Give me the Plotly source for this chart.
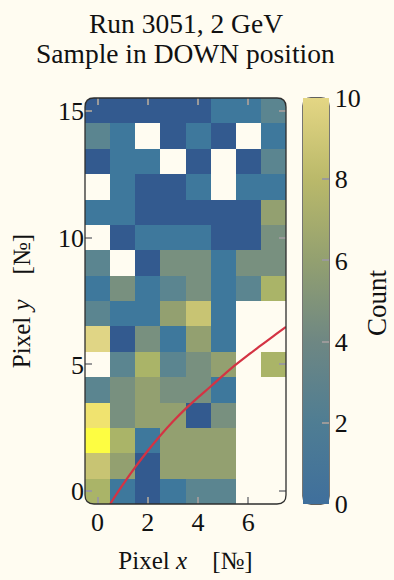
import plotly.graph_objects as go

# ---------------- data ----------------
cols = [0, 1, 2, 3, 4, 5, 6, 7]
rows = list(range(16))
N = None
# counts, row 0 (bottom) .. row 15 (top); None = no data
counts = [
    [7, 1, 0, 1, 3, 3, N, N],
    [8, 6, 0, 6, 6, 6, N, N],
    [12, 7, 1, 6, 6, 6, N, N],
    [11, 4, 6, 6, 0, 4, N, N],
    [3, 4, 6, 4, 4, 1, N, N],
    [N, 3, 7, 3, 4, 6, N, 7],
    [10, 0, 4, 1, 6, 1, N, N],
    [3, 1, 1, 6, 8, 1, N, N],
    [1, 4, 1, 3, 4, 1, 3, 7],
    [3, N, 0, 4, 4, 1, 4, 4],
    [N, 0, 1, 1, 1, 0, 0, 4],
    [1, 1, 0, 0, 0, 0, 0, 6],
    [N, 1, 0, 0, 1, N, 1, 1],
    [0, 1, 1, N, 0, N, 0, 3],
    [3, 1, N, 0, 1, 0, N, 1],
    [0, 0, 0, 0, 0, 1, 1, 3],
]
curve_x = [0.5, 1.0, 1.5, 2.0, 2.5, 3.0, 3.5, 4.0, 4.5, 5.0, 5.5, 6.0, 6.5, 7.0, 7.5]
curve_y = [-0.5, 0.25, 0.95, 1.6, 2.2, 2.75, 3.25, 3.7, 4.13, 4.57, 4.99, 5.38, 5.75, 6.12, 6.48]
x_ticks = [0, 2, 4, 6]
y_ticks = [0, 5, 10, 15]
cb_ticks = [0, 2, 4, 6, 8, 10]

# ---------------- style ----------------
BG = "#fffcf1"
FRAME = "#2e2e2e"
FONT = "Liberation Serif"

cell_scale_vals = [0, 1, 2, 3, 4, 5, 6, 7, 8, 9, 10, 11, 12]
cell_scale_cols = ["#335a8f", "#3e789c", "#4d7f96", "#5b8590", "#78907f", "#869877",
                   "#93a070", "#aab468", "#c8c473", "#d6cd7c", "#e0d585", "#f0e36f", "#fdfd42"]
zmax = cell_scale_vals[-1]
cell_scale = [[v / zmax, c] for v, c in zip(cell_scale_vals, cell_scale_cols)]

cb_scale = [[0.0, "#3f6f9c"], [0.2, "#4f7d93"], [0.4, "#6e8783"], [0.6, "#93a070"],
            [0.8, "#bab96a"], [1.0, "#e4d684"]]

# plot-area geometry (pixels)
L, T, Wp, Hp = 85, 98, 201, 406
FW, FH = 394, 580


def px(x):
    return (x - L) / Wp


def py(y):
    return (T + Hp - y) / Hp


def rounded(x0, y0, x1, y1, r):
    X0, X1, Y0, Y1 = px(x0), px(x1), py(y0), py(y1)
    rx, ry = r / Wp, r / Hp
    return (f"M {X0+rx},{Y0} L {X1-rx},{Y0} Q {X1},{Y0} {X1},{Y0-ry} "
            f"L {X1},{Y1+ry} Q {X1},{Y1} {X1-rx},{Y1} L {X0+rx},{Y1} "
            f"Q {X0},{Y1} {X0},{Y1+ry} L {X0},{Y0-ry} Q {X0},{Y0} {X0+rx},{Y0} Z")


def corners(x0, y0, x1, y1, r):
    X0, X1, Y0, Y1 = px(x0), px(x1), py(y0), py(y1)
    rx, ry = r / Wp, r / Hp
    ex, ey = 1.5 / Wp, 1.5 / Hp
    out = []
    out.append(f"M {X0-ex},{Y0+ey} L {X0+rx},{Y0+ey} L {X0+rx},{Y0} Q {X0},{Y0} {X0},{Y0-ry} L {X0-ex},{Y0-ry} Z")
    out.append(f"M {X1+ex},{Y0+ey} L {X1-rx},{Y0+ey} L {X1-rx},{Y0} Q {X1},{Y0} {X1},{Y0-ry} L {X1+ex},{Y0-ry} Z")
    out.append(f"M {X0-ex},{Y1-ey} L {X0+rx},{Y1-ey} L {X0+rx},{Y1} Q {X0},{Y1} {X0},{Y1+ry} L {X0-ex},{Y1+ry} Z")
    out.append(f"M {X1+ex},{Y1-ey} L {X1-rx},{Y1-ey} L {X1-rx},{Y1} Q {X1},{Y1} {X1},{Y1+ry} L {X1+ex},{Y1+ry} Z")
    return out


fig = go.Figure()
fig.add_trace(go.Heatmap(
    x=cols, y=rows, z=counts, colorscale=cell_scale, zmin=0, zmax=zmax,
    showscale=False, hoverongaps=False,
))
fig.add_trace(go.Scatter(
    x=curve_x, y=curve_y, mode="lines", line=dict(color="#d43343", width=2.2),
    line_shape="spline", showlegend=False,
))
# colorbar carrier (invisible)
fig.add_trace(go.Scatter(
    x=[None], y=[None], mode="markers", showlegend=False,
    marker=dict(color=[0], cmin=cb_ticks[0], cmax=cb_ticks[-1], colorscale=cb_scale,
                showscale=True,
                colorbar=dict(
                    x=px(303), xanchor="left", xpad=0, ypad=0, y=0.5, yanchor="middle",
                    len=1, lenmode="fraction", thickness=26, thicknessmode="pixels",
                    outlinewidth=0, tickvals=cb_ticks, ticktext=[str(v) for v in cb_ticks],
                    ticks="inside", ticklen=7, tickwidth=1.5, tickcolor="#9a9a9a",
                    tickfont=dict(family=FONT, size=26, color="#111"),
                )),
))

shapes = []
for p in corners(85, 98, 286, 504, 9):
    shapes.append(dict(type="path", path=p, xref="paper", yref="paper",
                       fillcolor=BG, line=dict(width=0), layer="above"))
shapes.append(dict(type="path", path=rounded(85, 98, 286, 504, 9), xref="paper", yref="paper",
                   line=dict(color=FRAME, width=1.3), layer="above"))
for p in corners(303, 98, 329, 504, 8):
    shapes.append(dict(type="path", path=p, xref="paper", yref="paper",
                       fillcolor=BG, line=dict(width=0), layer="above"))
shapes.append(dict(type="path", path=rounded(303, 98, 329, 504, 8), xref="paper", yref="paper",
                   line=dict(color=FRAME, width=1.3), layer="above"))
for v in cb_ticks[1:-1]:
    yy = 504 - (v - cb_ticks[0]) / (cb_ticks[-1] - cb_ticks[0]) * 406
    shapes.append(dict(type="line", xref="paper", yref="paper",
                       x0=px(303), x1=px(310), y0=py(yy), y1=py(yy),
                       line=dict(color="#9a9a9a", width=1.5), layer="above"))

annotations = [
    dict(text="Run 3051, 2 GeV", x=0.5, y=py(23), xref="paper", yref="paper",
         showarrow=False, xanchor="center", yanchor="middle",
         font=dict(family=FONT, size=27.5, color="#111")),
    dict(text="Sample in DOWN position", x=0.5, y=py(53), xref="paper", yref="paper",
         showarrow=False, xanchor="center", yanchor="middle",
         font=dict(family=FONT, size=27.5, color="#111")),
    dict(text="Count", x=px(377), y=py(303), xref="paper", yref="paper",
         showarrow=False, xanchor="center", yanchor="middle", textangle=-90,
         font=dict(family=FONT, size=27, color="#111")),
]

axis_common = dict(
    ticks="inside", ticklen=7, tickwidth=1.5, tickcolor="#9a9a9a", mirror="ticks",
    showgrid=False, zeroline=False, showline=False,
    tickfont=dict(family=FONT, size=26, color="#111"),
)

fig.update_layout(
    width=FW, height=FH,
    margin=dict(l=L, r=FW - L - Wp, t=T, b=FH - T - Hp, autoexpand=False),
    paper_bgcolor=BG, plot_bgcolor=BG,
    showlegend=False,
    shapes=shapes, annotations=annotations,
    xaxis=dict(range=[-0.5, 7.5], tickvals=x_ticks, **axis_common,
               title=dict(text="Pixel <i>x</i>\u2002\u2002[№]", standoff=15,
                          font=dict(family=FONT, size=25, color="#111"))),
    yaxis=dict(range=[-0.5, 15.5], tickvals=y_ticks, **axis_common,
               title=dict(text="Pixel <i>y</i>\u2002\u2002[№]", standoff=20,
                          font=dict(family=FONT, size=25, color="#111"))),
)

fig.write_html("out.html")
